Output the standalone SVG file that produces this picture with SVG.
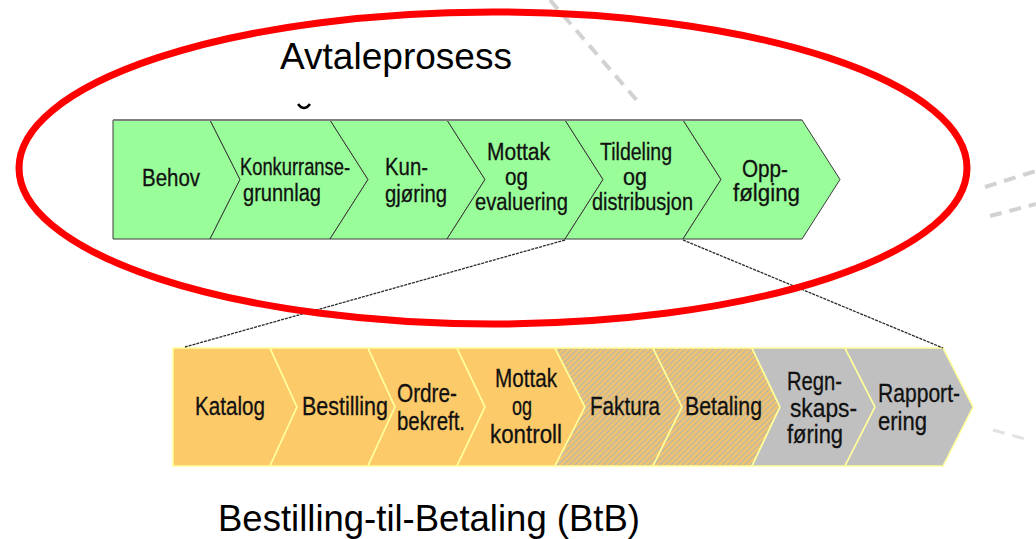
<svg xmlns="http://www.w3.org/2000/svg" width="1036" height="539" viewBox="0 0 1036 539">
<defs>
<style>
.g{fill:#99fe99;stroke:#3a3a3a;stroke-width:1}
.o{fill:#fdca6a;stroke:#ffff9c;stroke-width:1.6}
.h{fill:url(#hatch);stroke:#ffff9c;stroke-width:1.6}
.y{fill:#c0c0c0;stroke:#ffff9c;stroke-width:1.6}
.t{font-family:"Liberation Sans",Arial,sans-serif;fill:#111;stroke:#111;stroke-width:0.3}
.gt{font-size:23px}
.ot{font-size:25px}
.title{font-family:"Liberation Sans",Arial,sans-serif;font-size:37px;fill:#000}
.bg{stroke:#d2d2d2;stroke-width:4;stroke-dasharray:12 8;fill:none}
.conn{stroke:#2a2a2a;stroke-width:1.3;stroke-dasharray:3 1;fill:none}
</style>
<pattern id="hatch" patternUnits="userSpaceOnUse" width="4" height="4" patternTransform="rotate(45)">
<rect width="4" height="4" fill="#bdb6a6"/>
<rect width="2.5" height="4" fill="#f3c46c"/>
</pattern>
</defs>
<rect width="1036" height="539" fill="#fff"/>
<g id="background">
<line class="bg" x1="550" y1="0" x2="640" y2="104"/>
<line class="bg" x1="985" y1="187" x2="1036" y2="171"/>
<line class="bg" x1="990" y1="216" x2="1036" y2="204"/>
<line class="bg" x1="993" y1="430" x2="1025" y2="439" style="stroke:#e2e2e2;stroke-width:3"/>
</g>
<g id="avtale-band">
<g id="behov"><polygon class="g" points="113,120 210,120 240,179.5 210,239 113,239"/><text class="t gt" x="142" y="186" textLength="58" lengthAdjust="spacingAndGlyphs">Behov</text></g>
<g id="konkurranse"><polygon class="g" points="210,120 330,120 368,179.5 330,239 210,239 240,179.5"/><text class="t gt" x="240" y="175" textLength="110" lengthAdjust="spacingAndGlyphs">Konkurranse-</text><text class="t gt" x="243" y="201" textLength="78" lengthAdjust="spacingAndGlyphs">grunnlag</text></g>
<g id="kungjoring"><polygon class="g" points="330,120 447,120 485,179.5 447,239 330,239 368,179.5"/><text class="t gt" x="385" y="175" textLength="43" lengthAdjust="spacingAndGlyphs">Kun-</text><text class="t gt" x="385" y="202" textLength="62" lengthAdjust="spacingAndGlyphs">gjøring</text></g>
<g id="mottak-evaluering"><polygon class="g" points="447,120 565,120 603,179.5 565,239 447,239 485,179.5"/><text class="t gt" x="487" y="160" textLength="63" lengthAdjust="spacingAndGlyphs">Mottak</text><text class="t gt" x="505" y="185" textLength="23" lengthAdjust="spacingAndGlyphs">og</text><text class="t gt" x="475" y="210" textLength="93" lengthAdjust="spacingAndGlyphs">evaluering</text></g>
<g id="tildeling"><polygon class="g" points="565,120 683,120 721,179.5 683,239 565,239 603,179.5"/><text class="t gt" x="600" y="160" textLength="72" lengthAdjust="spacingAndGlyphs">Tildeling</text><text class="t gt" x="623" y="185" textLength="24" lengthAdjust="spacingAndGlyphs">og</text><text class="t gt" x="592" y="210" textLength="101" lengthAdjust="spacingAndGlyphs">distribusjon</text></g>
<g id="oppfolging"><polygon class="g" points="683,120 802,120 840,179.5 802,239 683,239 721,179.5"/><text class="t gt" x="742" y="177" textLength="46" lengthAdjust="spacingAndGlyphs">Opp-</text><text class="t gt" x="733" y="201" textLength="67" lengthAdjust="spacingAndGlyphs">følging</text></g>
<line x1="113" y1="120" x2="802" y2="120" stroke="#808080" stroke-width="2"/>
</g>
<g id="btb-band">
<g id="katalog"><polygon class="o" points="173,348 270,348 297,407 270,466 173,466"/><text class="t ot" x="195" y="415" textLength="70" lengthAdjust="spacingAndGlyphs">Katalog</text></g>
<g id="bestilling"><polygon class="o" points="270,348 368,348 395,407 368,466 270,466 297,407"/><text class="t ot" x="302" y="415" textLength="86" lengthAdjust="spacingAndGlyphs">Bestilling</text></g>
<g id="ordrebekreft"><polygon class="o" points="368,348 457,348 485,407 457,466 368,466 395,407"/><text class="t ot" x="397" y="402" textLength="60" lengthAdjust="spacingAndGlyphs">Ordre-</text><text class="t ot" x="397" y="430" textLength="68" lengthAdjust="spacingAndGlyphs">bekreft.</text></g>
<g id="mottak-kontroll"><polygon class="o" points="457,348 555,348 585,407 555,466 457,466 485,407"/><text class="t ot" x="495" y="387" textLength="62" lengthAdjust="spacingAndGlyphs">Mottak</text><text class="t ot" x="512" y="415" textLength="20" lengthAdjust="spacingAndGlyphs">og</text><text class="t ot" x="490" y="443" textLength="72" lengthAdjust="spacingAndGlyphs">kontroll</text></g>
<g id="faktura"><polygon class="h" points="555,348 653,348 682,407 653,466 555,466 585,407"/><text class="t ot" x="590" y="415" textLength="70" lengthAdjust="spacingAndGlyphs">Faktura</text></g>
<g id="betaling"><polygon class="h" points="653,348 752,348 780,407 752,466 653,466 682,407"/><text class="t ot" x="685" y="415" textLength="77" lengthAdjust="spacingAndGlyphs">Betaling</text></g>
<g id="regnskapsforing"><polygon class="y" points="752,348 845,348 875,407 845,466 752,466 780,407"/><text class="t ot" x="787" y="390" textLength="55" lengthAdjust="spacingAndGlyphs">Regn-</text><text class="t ot" x="790" y="417" textLength="67" lengthAdjust="spacingAndGlyphs">skaps-</text><text class="t ot" x="787" y="443" textLength="56" lengthAdjust="spacingAndGlyphs">føring</text></g>
<g id="rapportering"><polygon class="y" points="845,348 943,348 973,407 943,466 845,466 875,407"/><text class="t ot" x="878" y="402" textLength="82" lengthAdjust="spacingAndGlyphs">Rapport-</text><text class="t ot" x="878" y="430" textLength="49" lengthAdjust="spacingAndGlyphs">ering</text></g>
</g>
<g id="connectors">
<line class="conn" x1="565" y1="240" x2="185" y2="347"/>
<line class="conn" x1="683" y1="240" x2="943" y2="348"/>
</g>
<g id="mark"><path d="M298,104 Q304,112 310,104" fill="none" stroke="#000" stroke-width="2.5"/></g>
<g id="avtale-ring"><ellipse cx="493" cy="168" rx="474" ry="156" fill="none" stroke="#ff0000" stroke-width="7"/></g>
<g id="titles">
<text class="title" x="280" y="69" textLength="232" lengthAdjust="spacingAndGlyphs">Avtaleprosess</text>
<text class="title" x="218" y="531" textLength="422" lengthAdjust="spacingAndGlyphs">Bestilling-til-Betaling (BtB)</text>
</g>
</svg>
